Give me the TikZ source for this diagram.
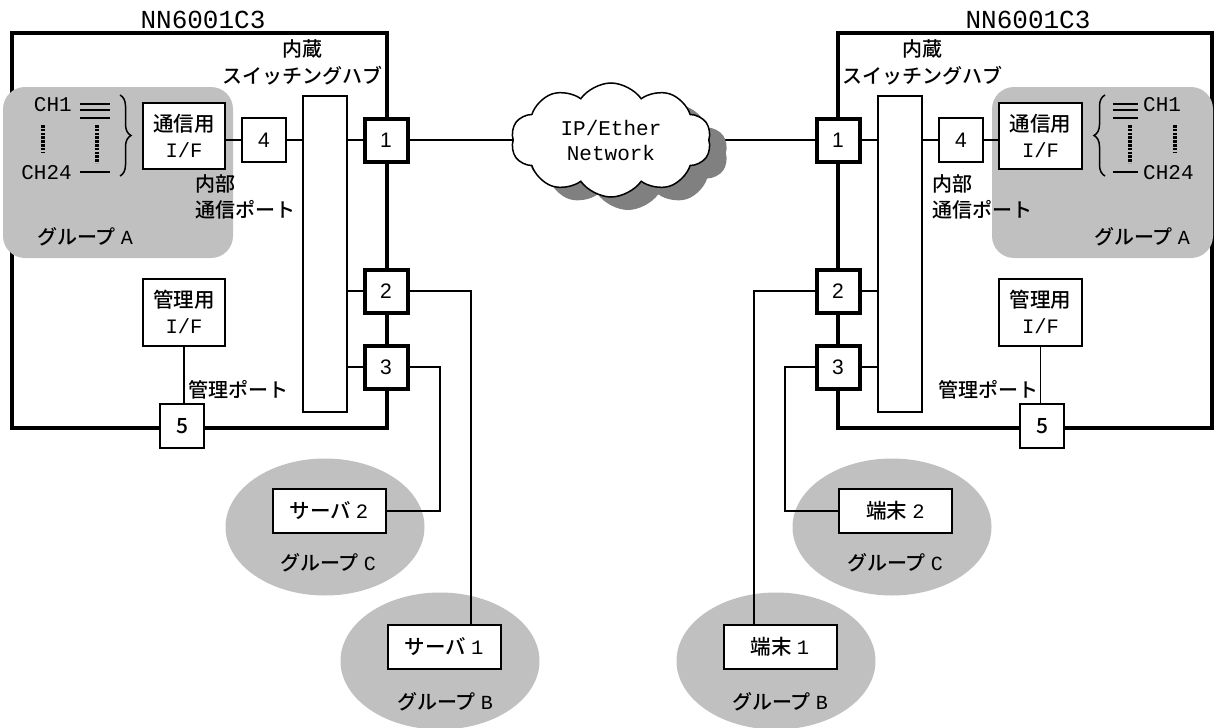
\documentclass[tikz,border=0pt]{standalone}
\usepackage{fontspec}
\setmainfont{Noto Sans CJK JP Medium}
\newfontfamily\mono{Liberation Mono}
\newfontfamily\lsans{Liberation Sans}
\usetikzlibrary{shapes.geometric,shapes.symbols,decorations.pathreplacing}
\definecolor{grp}{RGB}{192,192,192}
\definecolor{shd}{RGB}{128,128,128}
\newcommand{\gap}{\hspace{5pt}}
\begin{document}
\begin{tikzpicture}[x=1pt,y=-1pt,
  lbl/.style={font=\fontsize{20}{26}\selectfont, inner sep=0pt},
  mlbl/.style={font=\mono\fontsize{21}{26}\selectfont, inner sep=0pt},
  boxnode/.style={draw, line width=2pt, fill=white, align=center, font=\fontsize{20.5}{26}\selectfont, inner sep=0pt},
  tport/.style={draw, line width=4pt, fill=white, minimum size=43pt, inner sep=0pt, font=\lsans\fontsize{21}{21}\selectfont},
  nport/.style={draw, line width=2pt, fill=white, minimum size=44pt, inner sep=0pt, font=\lsans\fontsize{21}{21}\selectfont},
  wire/.style={line width=1.3pt},
  outerframe/.style={line width=4pt},
  grpell/.style={ellipse, fill=grp, minimum width=199pt, minimum height=137pt, inner sep=0pt},
  grprect/.style={fill=grp, rounded corners=22pt},
  dotline/.style={line width=3.5pt, dash pattern=on 2.5pt off 1.3pt},
  brc/.style={decorate, decoration={brace, amplitude=11pt}, line width=1.5pt},
  cloudshape/.style={cloud, cloud puffs=10, cloud puff arc=110, cloud ignores aspect, minimum width=200pt, minimum height=114pt, inner sep=0pt}
]
\useasboundingbox (0,0) rectangle (1216,728);

% ================= LEFT =================
\draw[outerframe] (12,33) rectangle (387,428);
\fill[grprect] (3,87) rectangle (233,258);
\node[lbl, font=\mono\fontsize{26}{26}\selectfont] (titleL) at (203,20) {NN6001C3};
\node[lbl] (hubLa) at (302,49) {内蔵};
\node[lbl] (hubLb) at (302,76) {スイッチングハブ};
\node[boxnode, minimum width=82pt, minimum height=66pt] (ifL) at (184,136) {通信用\\{\mono I/F}};
\node[boxnode, minimum width=44pt, minimum height=316pt] (hubL) at (325,254) {};
\node[nport] (p4L) at (264,140) {4};
\node[tport] (p1L) at (386,140) {1};
\node[tport] (p2L) at (386,291) {2};
\node[tport] (p3L) at (386,367) {3};
\node[boxnode, minimum width=82pt, minimum height=67pt] (mgL) at (184,312) {管理用\\{\mono I/F}};
\node[nport, font=\fontsize{21}{21}\selectfont] (p5L) at (182,426) {5};
\node[lbl, anchor=west, align=left] (ipL) at (195,197) {内部\\通信ポート};
\node[lbl] (gAL) at (85,237) {グループ\gap{\mono A}};
\node[mlbl, anchor=east] (ch1L) at (72,105) {CH1};
\node[mlbl, anchor=east] (ch24L) at (72,173) {CH24};
\node[lbl, anchor=west] (mpL) at (188,390) {管理ポート};
\draw[wire] (80,104) -- (110,104);
\draw[wire] (80,110) -- (110,110);
\draw[wire] (80,118) -- (110,118);
\draw[wire] (80,172) -- (110,172);
\draw[dotline] (43,125) -- (43,153);
\draw[dotline] (97,125) -- (97,163);
\draw[brc] (120,95) -- (120,176);
\draw[wire] (ifL.east |- p4L) -- (p4L.west);
\draw[wire] (p4L.east) -- (p4L -| hubL.west);
\draw[wire] (hubL.east |- p1L) -- (p1L.west);
\draw[wire] (hubL.east |- p2L) -- (p2L.west);
\draw[wire] (hubL.east |- p3L) -- (p3L.west);
\draw[wire] (mgL.south) -- (mgL.south |- p5L.north);

\node[grpell] (gCL) at (325,527) {};
\node[grpell] (gBL) at (440,661) {};
\node[boxnode, minimum width=113pt, minimum height=44pt] (s2) at (329,511) {サーバ\gap{\mono 2}};
\node[boxnode, minimum width=113pt, minimum height=44pt] (s1) at (444,647) {サーバ\gap{\mono 1}};
\node[lbl] (gCLt) at (328,563) {グループ\gap{\mono C}};
\node[lbl] (gBLt) at (445,702) {グループ\gap{\mono B}};
\coordinate (cL2) at (471,291);
\coordinate (cL3) at (440,367);
\draw[wire] (p2L.east) -- (cL2) -- (cL2 |- s1.north);
\draw[wire] (p3L.east) -- (cL3) -- (cL3 |- s2.east) -- (s2.east);

% ================= RIGHT =================
\draw[outerframe] (838,33) rectangle (1212,428);
\fill[grprect] (992,87) rectangle (1213,258);
\node[lbl, font=\mono\fontsize{26}{26}\selectfont] (titleR) at (1028,20) {NN6001C3};
\node[lbl] (hubRa) at (922,49) {内蔵};
\node[lbl] (hubRb) at (922,76) {スイッチングハブ};
\node[boxnode, minimum width=83pt, minimum height=66pt] (ifR) at (1040.5,136) {通信用\\{\mono I/F}};
\node[boxnode, minimum width=44pt, minimum height=316pt] (hubR) at (900,254) {};
\node[nport] (p4R) at (961,140) {4};
\node[tport] (p1R) at (838,140) {1};
\node[tport] (p2R) at (838,291) {2};
\node[tport] (p3R) at (838,367) {3};
\node[boxnode, minimum width=83pt, minimum height=67pt] (mgR) at (1040.5,312) {管理用\\{\mono I/F}};
\node[nport, font=\fontsize{21}{21}\selectfont] (p5R) at (1042,426) {5};
\node[lbl, anchor=west, align=left] (ipR) at (932,197) {内部\\通信ポート};
\node[lbl] (gAR) at (1142,237) {グループ\gap{\mono A}};
\node[mlbl, anchor=west] (ch1R) at (1143,105) {CH1};
\node[mlbl, anchor=west] (ch24R) at (1143,173) {CH24};
\node[lbl, anchor=east] (mpR) at (1039,390) {管理ポート};
\draw[wire] (1113,104) -- (1138,104);
\draw[wire] (1113,110) -- (1138,110);
\draw[wire] (1113,118) -- (1138,118);
\draw[wire] (1113,172) -- (1138,172);
\draw[dotline] (1130,125) -- (1130,163);
\draw[dotline] (1175,125) -- (1175,153);
\draw[brc] (1105,176) -- (1105,95);
\draw[wire] (ifR.west |- p4R) -- (p4R.east);
\draw[wire] (p4R.west) -- (p4R -| hubR.east);
\draw[wire] (hubR.west |- p1R) -- (p1R.east);
\draw[wire] (hubR.west |- p2R) -- (p2R.east);
\draw[wire] (hubR.west |- p3R) -- (p3R.east);
\draw[wire] (mgR.south) -- (mgR.south |- p5R.north);

\node[grpell] (gCR) at (892,527) {};
\node[grpell] (gBR) at (776,661) {};
\node[boxnode, minimum width=113pt, minimum height=44pt] (t2) at (895.5,511) {端末\gap{\mono 2}};
\node[boxnode, minimum width=113pt, minimum height=44pt] (t1) at (780,647) {端末\gap{\mono 1}};
\node[lbl] (gCRt) at (895,563) {グループ\gap{\mono C}};
\node[lbl] (gBRt) at (780,702) {グループ\gap{\mono B}};
\coordinate (cR2) at (754,291);
\coordinate (cR3) at (785,367);
\draw[wire] (p2R.west) -- (cR2) -- (cR2 |- t1.north);
\draw[wire] (p3R.west) -- (cR3) -- (cR3 |- t2.west) -- (t2.west);

% ================= CLOUD =================
\coordinate (cloudc) at (611,140);
\draw[wire] (p1L.east) -- (cloudc);
\draw[wire] (cloudc) -- (p1R.west);
\node[cloudshape, fill=shd] (cloudS) at (628,153) {};
\node[cloudshape, draw, fill=white, line width=1.5pt, align=center, font=\mono\fontsize{21}{25}\selectfont] (net) at (cloudc) {IP/Ether\\Network};
\end{tikzpicture}
\end{document}
